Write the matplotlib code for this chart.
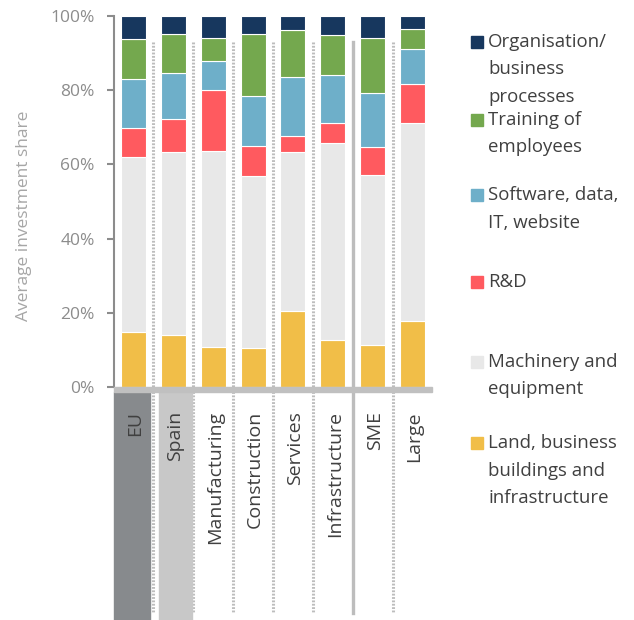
import numpy as np
import matplotlib
matplotlib.use("Agg")
import matplotlib.pyplot as plt
import matplotlib.transforms as mtransforms
from matplotlib.patches import Rectangle

plt.rcParams['font.family'] = ['Open Sans', 'DejaVu Sans']

# Data (shares in %, bottom to top of each stack)
categories = ['EU', 'Spain', 'Manufacturing', 'Construction', 'Services',
              'Infrastructure', 'SME', 'Large']
land      = [14.7, 14.1, 10.7, 10.4, 20.6, 12.8, 11.2, 17.7]
machinery = [47.3, 49.2, 53.0, 46.4, 42.7, 52.9, 46.0, 53.5]
rnd       = [7.8, 9.0, 16.3, 8.1, 4.3, 5.4, 7.5, 10.5]
software  = [13.3, 12.3, 8.0, 13.5, 16.0, 13.0, 14.6, 9.5]
training  = [10.7, 10.5, 6.1, 16.8, 12.6, 10.9, 14.7, 5.2]
organisation = [6.2, 4.9, 5.9, 4.8, 3.8, 5.0, 6.0, 3.6]

series = [land, machinery, rnd, software, training, organisation]
colors = ['#F1BE48', '#E8E8E8', '#FF5A5F', '#6EAFC9', '#74A84E', '#17375E']
legend_labels = [
    ['Land, business', 'buildings and', 'infrastructure'],
    ['Machinery and', 'equipment'],
    ['R&D'],
    ['Software, data,', 'IT, website'],
    ['Training of', 'employees'],
    ['Organisation/', 'business', 'processes'],
]

W, H = 634, 620
fig = plt.figure(figsize=(W / 100, H / 100), dpi=100)
ax = fig.add_axes([114 / W, 1 - 387 / H, 318 / W, 371 / H])

x = np.arange(len(categories))
bottom = np.zeros(len(categories))
for vals, col in zip(series, colors):
    ax.bar(x, vals, width=0.625, bottom=bottom, color=col,
           edgecolor='white', linewidth=0.8, zorder=3)
    bottom += np.array(vals)

ax.set_xlim(-0.4875, len(categories) - 0.5125)
ax.set_ylim(0, 100)
for s in ['top', 'right', 'bottom']:
    ax.spines[s].set_visible(False)
ax.spines['left'].set_color('#8C8C8C')
ax.spines['left'].set_linewidth(1.5)
ax.set_xticks([])
ax.set_yticks(np.arange(0, 101, 20))
ax.set_yticklabels([f'{v}%' for v in range(0, 101, 20)])
ax.tick_params(axis='y', length=5, width=1.5, color='#8C8C8C',
               labelcolor='#8C8C8C', labelsize=12.5, pad=9)

fig.text(24 / W, 1 - 216 / H, 'Average investment share', rotation=90,
         ha='center', va='center', color='#A6A6A6', fontsize=12.5)

# thick base line under the bars
fig.add_artist(Rectangle((114 / W, 1 - 392 / H), 318 / W, 5 / H,
                         transform=fig.transFigure, color='#C0C0C0', zorder=5))

blend = mtransforms.blended_transform_factory(ax.transData, fig.transFigure)
# highlighted label columns for EU and Spain
fig.add_artist(Rectangle((-0.4875, 0), 0.9, 1 - 392 / H, transform=blend,
                         color='#878A8D', zorder=1))
fig.add_artist(Rectangle((0.6375, 0), 0.825, 1 - 392 / H, transform=blend,
                         color='#C8C8C8', zorder=1))

# separators
for sx in [0.5, 1.5, 2.5, 3.5, 4.5, 6.5]:
    ax.plot([sx, sx], [93, -61], color='#BDBDBD', lw=2.2,
            linestyle=(0, (0.6, 0.5)), clip_on=False, zorder=2)
ax.plot([5.5, 5.5], [93, -61], color='#BDBDBD', lw=2.4, clip_on=False, zorder=2)

for i, cat in enumerate(categories):
    fig.text(i + 0.05, 1 - 411 / H, cat, rotation=90, ha='center', va='top',
             transform=blend, color='#404040', fontsize=14, zorder=10)

# legend, top entry first
legend_y = [42, 120, 195, 282, 362, 443]
for yy, lines, col in zip(legend_y, legend_labels[::-1], colors[::-1]):
    fig.add_artist(Rectangle((471 / W, 1 - (yy + 6) / H), 12 / W, 12 / H,
                             transform=fig.transFigure, color=col))
    for k, line in enumerate(lines):
        fig.text(488 / W, 1 - (yy + k * 27.5) / H, line, ha='left',
                 va='center', color='#404040', fontsize=13.4)

fig.savefig('out.png', dpi=100)
